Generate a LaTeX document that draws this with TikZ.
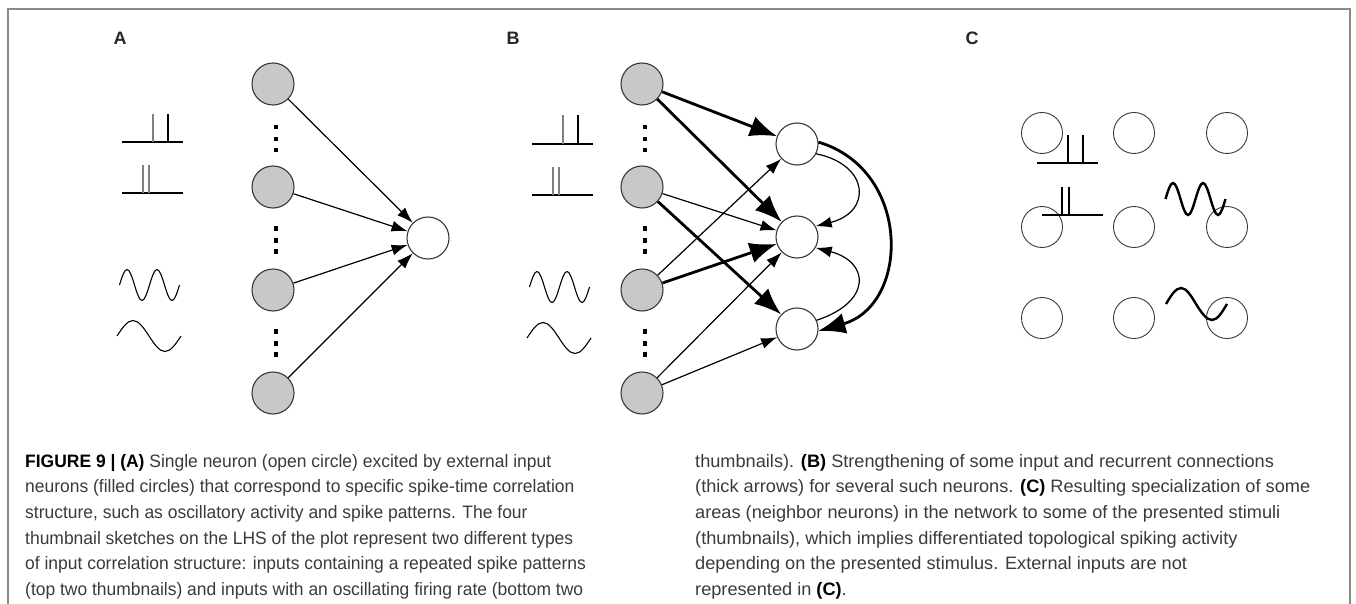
\documentclass[tikz,border=0pt]{standalone}
\usepackage{fontspec}
\setmainfont{Liberation Sans}
\newfontfamily\capfont[FakeStretch=0.97]{Liberation Sans}
\newfontfamily\capfontr[FakeStretch=1.01]{Liberation Sans}
\usetikzlibrary{arrows.meta}
\definecolor{nodegray}{HTML}{C8C8C8}
\definecolor{edgegray}{HTML}{383838}
\definecolor{spikegray}{HTML}{808080}
\definecolor{framegray}{HTML}{8A8A8A}
\definecolor{captext}{HTML}{3A3A3A}
\begin{document}
\begin{tikzpicture}[x=1pt,y=-1pt,
  inneuron/.style={circle, draw=edgegray, fill=nodegray, line width=1.1pt, minimum size=42pt, inner sep=0pt},
  outneuron/.style={circle, draw=edgegray, fill=white, line width=1.1pt, minimum size=42pt, inner sep=0pt},
  gridneuron/.style={circle, draw=edgegray, line width=0.9pt, minimum size=41pt, inner sep=0pt},
  thinarrow/.style={line width=1.2pt, -{Latex[length=16pt,width=11pt]}},
  thickarrow/.style={line width=2.8pt, -{Latex[length=27pt,width=21pt]}},
  panellabel/.style={font=\fontsize{18}{18}\selectfont\bfseries, text=black!85, inner sep=0pt},
  capline/.style={anchor=base west, inner sep=0pt, text=captext, font=\capfont\fontsize{18}{22}\selectfont},
  caplineR/.style={anchor=base west, inner sep=0pt, text=captext, font=\capfontr\fontsize{18}{22}\selectfont},
  dotsq/.style={fill=black},
  thumb/.style={line width=1.1pt, black},
  thumbthick/.style={line width=2.4pt, black}
]
\useasboundingbox (0,0) rectangle (1356,604);
% frame
\draw[framegray, line width=1.4pt] (8,610) -- (8,9) -- (1350,9) -- (1350,610);

% ---------------- Panel A ----------------
\node[panellabel] (labA) at (120,38) {A};
\foreach \i/\yy in {1/84,2/187,3/290,4/393}{
  \node[inneuron] (ag\i) at (273,\yy) {};
}
\foreach \yy in {125,137,148,226,238,249,329,341,352}{
  \fill[dotsq] (273.5,\yy) rectangle ++(4.5,4.5);
}
\node[outneuron] (aout) at (428,238) {};
\foreach \i in {1,2,3,4}{
  \draw[thinarrow] (ag\i) -- (aout);
}
% thumbnails A
\draw[thumb] (122,142) -- (183,142);
\draw[thumb, spikegray] (153,142) -- (153,114);
\draw[thumb] (168,142) -- (168,114);
\draw[thumb] (122,193) -- (183,193);
\draw[thumb, spikegray] (143,193) -- (143,165);
\draw[thumb, spikegray] (149,193) -- (149,165);
\draw[thumb] (119.5,285) sin (127,269.5) cos (134.5,285) sin (142,300.5) cos (149.5,285)
   sin (157,269.5) cos (164.5,285) sin (172,300.5) cos (179.5,285);
\draw[thumb] (117,336) sin (133,320.5) cos (149,336) sin (165,351.5) cos (181,336);

% ---------------- Panel B ----------------
\node[panellabel] (labB) at (513,38) {B};
\foreach \i/\yy in {1/84,2/187,3/290,4/393}{
  \node[inneuron] (bg\i) at (642,\yy) {};
}
\foreach \yy in {125,137,148,226,238,249,329,341,352}{
  \fill[dotsq] (642.5,\yy) rectangle ++(4.5,4.5);
}
\node[outneuron] (bo1) at (797,144) {};
\node[outneuron] (bo2) at (797,237) {};
\node[outneuron] (bo3) at (797,329) {};
\draw[thickarrow] (bg1) -- (bo1);
\draw[thickarrow] (bg1) -- (bo2);
\draw[thinarrow] (bg2) -- (bo2);
\draw[thickarrow] (bg2) -- (bo3);
\draw[thinarrow] (bg3) -- (bo1);
\draw[thickarrow] (bg3) -- (bo2);
\draw[thinarrow] (bg4) -- (bo2);
\draw[thinarrow] (bg4) -- (bo3);
\draw[thinarrow] (bo1.-27) .. controls (870,165) and (872,212) .. (bo2.30);
\draw[thinarrow] (bo3.24) .. controls (872,302) and (870,262) .. (bo2.-30);
\draw[thickarrow] (bo1.5) .. controls (912,170) and (910,305) .. (bo3.-5);
% thumbnails B
\draw[thumb] (532,144) -- (593,144);
\draw[thumb, spikegray] (563,144) -- (563,115);
\draw[thumb] (578,144) -- (578,115);
\draw[thumb] (532,195) -- (593,195);
\draw[thumb, spikegray] (553,195) -- (553,167);
\draw[thumb, spikegray] (559,195) -- (559,167);
\draw[thumb] (529.5,287) sin (537,271.5) cos (544.5,287) sin (552,302.5) cos (559.5,287)
   sin (567,271.5) cos (574.5,287) sin (582,302.5) cos (589.5,287);
\draw[thumb] (527,338) sin (543,322.5) cos (559,338) sin (575,353.5) cos (591,338);

% ---------------- Panel C ----------------
\node[panellabel] (labC) at (972,38) {C};
\foreach \r/\yy in {1/133,2/227,3/318}{
  \foreach \c/\xx in {1/1042,2/1134,3/1227}{
    \node[gridneuron] (c\r\c) at (\xx,\yy) {};
  }
}
\draw[thumbthick] (1037,163) -- (1098,163);
\draw[thumbthick] (1068,163) -- (1068,135);
\draw[thumbthick] (1083,163) -- (1083,135);
\draw[thumbthick] (1042,215) -- (1103,215);
\draw[thumbthick] (1062,215) -- (1062,187);
\draw[thumbthick] (1069,215) -- (1069,187);
\draw[thumbthick] (1165.5,199) sin (1173,183) cos (1180.5,199) sin (1188,215) cos (1195.5,199)
   sin (1203,183) cos (1210.5,199) sin (1218,215) cos (1225.5,199);
\draw[thumbthick] (1166,304) sin (1181,288) cos (1196,304) sin (1212,320) cos (1227,304);

% ---------------- Caption ----------------
\node[capline] (cl1) at (25,467) {\textbf{\color{black}FIGURE 9 | (A)} Single neuron (open circle) excited by external input};
\node[capline] (cl2) at (25,492.7) {neurons (filled circles) that correspond to specific spike-time correlation};
\node[capline] (cl3) at (25,518.4) {structure, such as oscillatory activity and spike patterns. The four};
\node[capline] (cl4) at (25,544.1) {thumbnail sketches on the LHS of the plot represent two different types};
\node[capline] (cl5) at (25,569.8) {of input correlation structure: inputs containing a repeated spike patterns};
\node[capline] (cl6) at (25,595.5) {(top two thumbnails) and inputs with an oscillating firing rate (bottom two};
\node[caplineR] (cr1) at (695,467) {thumbnails). \textbf{\color{black}(B)} Strengthening of some input and recurrent connections};
\node[caplineR] (cr2) at (695,492.7) {(thick arrows) for several such neurons. \textbf{\color{black}(C)} Resulting specialization of some};
\node[caplineR] (cr3) at (695,518.4) {areas (neighbor neurons) in the network to some of the presented stimuli};
\node[caplineR] (cr4) at (695,544.1) {(thumbnails), which implies differentiated topological spiking activity};
\node[caplineR] (cr5) at (695,569.8) {depending on the presented stimulus. External inputs are not};
\node[caplineR] (cr6) at (695,595.5) {represented in \textbf{\color{black}(C)}.};
\end{tikzpicture}
\end{document}
